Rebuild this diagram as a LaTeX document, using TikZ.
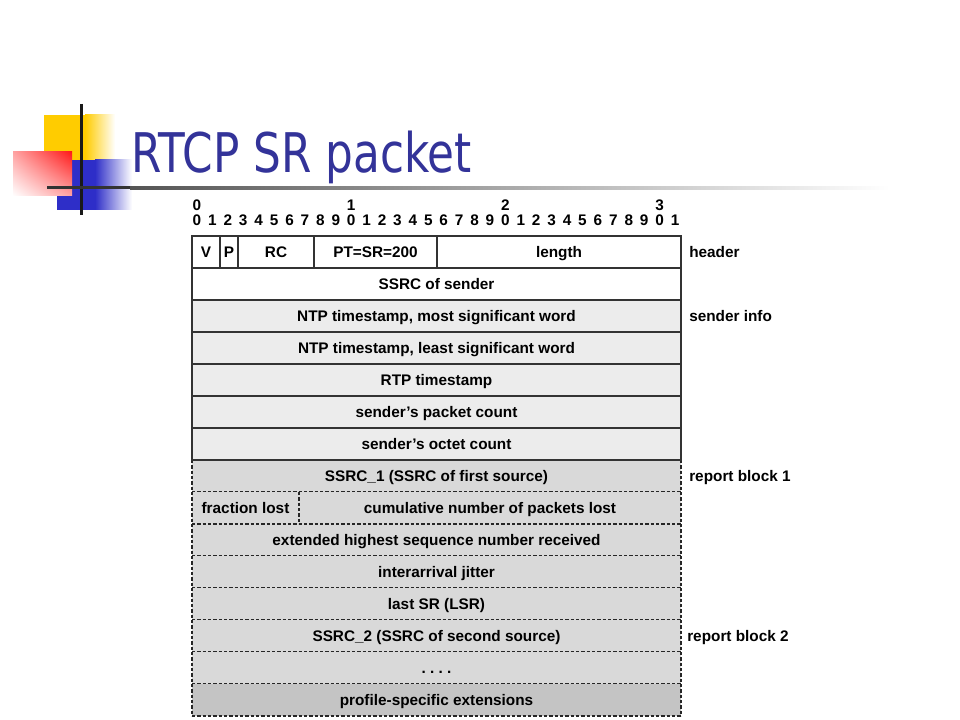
\documentclass[tikz,border=0pt]{standalone}
\usepackage{fontspec}
\setmainfont{Liberation Sans}
\newfontfamily\titlefont[FakeStretch=0.8]{DejaVu Sans}
\usetikzlibrary{positioning,shadings}
\definecolor{titleblue}{HTML}{333399}
\definecolor{logoyellow}{HTML}{FFCC00}
\definecolor{logoblue}{HTML}{2E2EC8}
\definecolor{logored}{HTML}{FF1A1A}
\definecolor{infogray}{HTML}{ECECEC}
\definecolor{reportgray}{HTML}{D9D9D9}
\definecolor{profgray}{HTML}{C4C4C4}
\definecolor{rulegray}{HTML}{333333}
\tikzset{
  cellbox/.style={draw=rulegray, line width=0.9pt, minimum height=24pt, inner sep=0pt, outer sep=0pt,
    text height=7.6pt, text depth=0pt, font=\fontsize{11.5}{13}\selectfont\bfseries},
  rowbox/.style={cellbox, minimum width=366.75pt},
  reprow/.style={rowbox, draw=none, fill=reportgray},
  dashline/.style={black!85, line width=1.4pt, dash pattern=on 2.4pt off 1.6pt},
  bitnum/.style={inner sep=0pt, text height=7.6pt, text depth=0pt, font=\fontsize{11.5}{13}\selectfont\bfseries},
  sidelabel/.style={anchor=west, inner sep=0pt, text height=7.6pt, text depth=0pt, font=\fontsize{11.5}{13}\selectfont\bfseries}
}
\begin{document}
\begin{tikzpicture}[x=0.75pt, y=-0.75pt]
    \useasboundingbox (0,0) rectangle (960,720);
    % logo
    \fill[logoyellow] (44,115) rectangle (85,160);
    \shade[left color=logoyellow, right color=white] (85,115) rectangle (115,160);
    \fill[logoblue] (57,160) rectangle (95,210);
    \shade[left color=logoblue, right color=white] (95,160) rectangle (132,210);
    \shade[upper right=logored, lower left=white, upper left=logored!40, lower right=logored!40] (13,152) rectangle (72,196);
    \draw[line width=2.25pt, black!90] (81,104) -- (81,215);
    \draw[line width=2.25pt, black!80] (47,188) -- (131,188);
    \shade[left color=black!67, right color=white] (130,186.5) rectangle (890,189.5);
    \node[anchor=base west, inner sep=0pt, text=titleblue, font=\titlefont\fontsize{41}{48}\selectfont] (title) at (131,173) {RTCP SR packet};
    % bit numbers
    \foreach \i/\t in {0/0, 10/1, 20/2, 30/3}
        \node[bitnum] (dec\t) at (197+15.42*\i, 205) {\t};
    \foreach \i in {0,...,31} {
        \pgfmathtruncatemacro\d{mod(\i,10)}
        \node[bitnum] (bit\i) at (197+15.42*\i, 220) {\d};
    }
    % report blocks
    \foreach \i/\name/\txt/\fc in {7/ssrcone/SSRC\_1 (SSRC of first source)/reportgray,
            9/extseq/extended highest sequence number received/reportgray,
            10/jitter/interarrival jitter/reportgray, 11/lastsr/last SR (LSR)/reportgray,
            12/ssrctwo/SSRC\_2 (SSRC of second source)/reportgray, 13/more/{.~.~.~.}/reportgray,
            14/profext/profile-specific extensions/profgray} {
        \node[reprow, fill=\fc] (\name) at (436.5, 252+32*\i) {\txt};
        \draw[dashline] (\name.south west) -- (\name.south east);
    }
    \node[reprow, minimum width=80.25pt] (fraclost) at (245.5, 508) {fraction lost};
    \node[reprow, minimum width=286.5pt] (cumlost) at (490, 508) {cumulative number of packets lost};
    \draw[dashline] (fraclost.south west) -- (cumlost.south east);
    \draw[dashline] (fraclost.north east) -- (fraclost.south east);
    \draw[dashline] (ssrcone.north west) -- (profext.south west);
    \draw[dashline] (ssrcone.north east) -- (profext.south east);
    % header and sender info
    \node[cellbox, minimum width=21pt] (vfield) at (206, 252) {V};
    \node[cellbox, minimum width=13.5pt] (pfield) at (229, 252) {P};
    \node[cellbox, minimum width=57pt] (rcfield) at (276, 252) {RC};
    \node[cellbox, minimum width=92.25pt] (ptfield) at (375.5, 252) {PT=SR=200};
    \node[cellbox, minimum width=183pt] (lenfield) at (559, 252) {length};
    \foreach \i/\name/\txt/\fc in {1/ssrc/SSRC of sender/white,
            2/ntpmsw/{NTP timestamp, most significant word}/infogray,
            3/ntplsw/{NTP timestamp, least significant word}/infogray,
            4/rtpts/RTP timestamp/infogray, 5/pktcount/sender’s packet count/infogray,
            6/octcount/sender’s octet count/infogray}
        \node[rowbox, fill=\fc] (\name) at (436.5, 252+32*\i) {\txt};
    % side labels
    \node[sidelabel, right=6pt of lenfield] (hdrtag) {header};
    \node[sidelabel, right=6pt of ntpmsw] (sendtag) {sender info};
    \node[sidelabel, right=6pt of ssrcone] (reponetag) {report block 1};
    \node[sidelabel, right=4.5pt of ssrctwo] (reptwotag) {report block 2};
\end{tikzpicture}
\end{document}
